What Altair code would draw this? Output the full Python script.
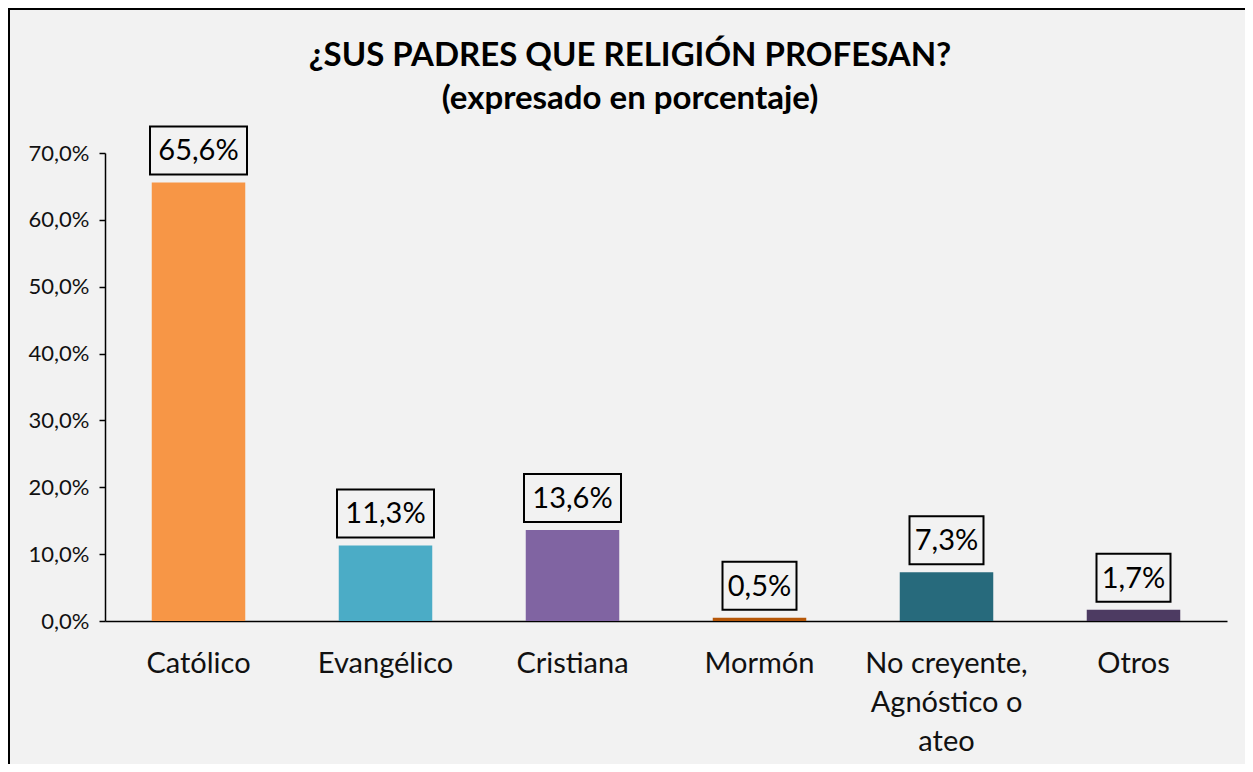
import altair as alt
import pandas as pd

categorias = ["Católico", "Evangélico", "Cristiana", "Mormón",
              "No creyente, Agnóstico o ateo", "Otros"]
valores = [65.6, 11.3, 13.6, 0.5, 7.3, 1.7]
colores = ["#F79646", "#4BACC6", "#8064A2", "#B65708", "#276A7C", "#4D3B62"]
titulo = ["¿SUS PADRES QUE RELIGIÓN PROFESAN?", "(expresado en porcentaje)"]
y_ticks = [0, 10, 20, 30, 40, 50, 60, 70]

FONT = "Lato"
W, H = 1122, 468
PAD = {"left": 97, "top": 145, "right": 18, "bottom": 143}

df = pd.DataFrame({"cat": categorias, "val": valores})

x_enc = alt.X("cat:N", sort=categorias, title=None,
              scale=alt.Scale(paddingInner=0.5, paddingOuter=0.25),
              axis=alt.Axis(labelAngle=0, labelFont=FONT, labelFontSize=29,
                            labelColor="#111111", labelPadding=28,
                            labelLineHeight=39, ticks=False,
                            domainColor="#000000", domainWidth=1.5,
                            labelLimit=400,
                            labelExpr="datum.label == 'No creyente, Agnóstico o ateo' ? ['No creyente,', 'Agnóstico o', 'ateo'] : datum.label"))
y_enc = alt.Y("val:Q", title=None,
              scale=alt.Scale(domain=[0, 70], nice=False),
              axis=alt.Axis(values=y_ticks, grid=False, labelFont=FONT,
                            labelFontSize=22, labelColor="#111111",
                            tickSize=6, tickColor="#000000", tickWidth=1.5,
                            domainColor="#000000", domainWidth=1.5,
                            labelPadding=10,
                            labelExpr="replace(format(datum.value, '.1f'), '.', ',') + '%'"))

base = alt.Chart(df)

bars = base.mark_bar().encode(
    x=x_enc, y=y_enc,
    color=alt.Color("cat:N", sort=categorias,
                    scale=alt.Scale(domain=categorias, range=colores),
                    legend=None),
)

lab = base.transform_calculate(
    txt="replace(format(datum.val, '.1f'), '.', ',') + '%'"
).transform_calculate(
    bw="23 * length(datum.txt) - 18"
).transform_calculate(
    sz="datum.bw * datum.bw",
    shp="'M-1,' + (-48 / datum.bw) + 'L1,' + (-48 / datum.bw) + 'L1,' + (48 / datum.bw) + 'L-1,' + (48 / datum.bw) + 'Z'",
)

boxes = lab.mark_point(filled=False, stroke="#000000", strokeWidth=2,
                       opacity=1, yOffset=-32).encode(
    x=alt.X("cat:N", sort=categorias),
    y="val:Q",
    shape=alt.Shape("shp:N", scale=None),
    size=alt.Size("sz:Q", scale=None),
)

texts = lab.mark_text(font=FONT, fontSize=29, color="#000000",
                      baseline="middle", yOffset=-31).encode(
    x=alt.X("cat:N", sort=categorias),
    y="val:Q",
    text="txt:N",
)

one = alt.Chart(pd.DataFrame({"a": [0]}))
frame_top = one.mark_rule(color="#000000", strokeWidth=2).encode(
    x=alt.value(-PAD["left"]), x2=alt.value(W + PAD["right"]),
    y=alt.value(-PAD["top"] + 1))
frame_left = one.mark_rule(color="#000000", strokeWidth=2).encode(
    x=alt.value(-PAD["left"] + 1),
    y=alt.value(-PAD["top"]), y2=alt.value(H + PAD["bottom"]))

chart = alt.layer(bars, boxes, texts, frame_top, frame_left).properties(
    width=W, height=H,
    title=alt.TitleParams(text=titulo, font=FONT, fontSize=33,
                          fontWeight="bold", color="#000000",
                          anchor="middle", frame="group", dx=-36,
                          offset=-109, lineHeight=43),
    autosize=alt.AutoSizeParams(type="none"),
    padding=PAD,
).configure(background="#F2F2F2").configure_view(stroke=None)

chart.save("out.html", embed_options={"renderer": "svg", "actions": False})
